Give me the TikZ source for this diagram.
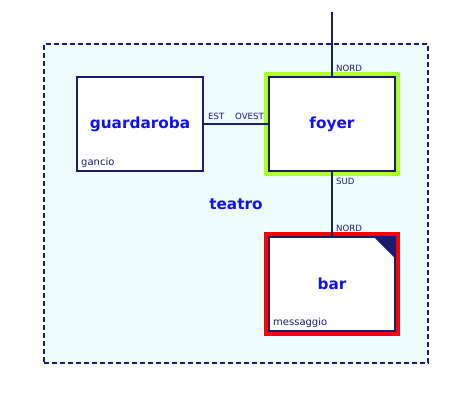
\documentclass[tikz,border=0pt]{standalone}
\usepackage{fontspec}
\setmainfont{DejaVu Sans}
\definecolor{navy}{HTML}{1C1C6E}
\definecolor{titleblue}{HTML}{1010F0}
\definecolor{bgcyan}{HTML}{EEFCFF}
\definecolor{lime}{HTML}{AEFF2A}
\begin{document}
\begin{tikzpicture}[x=1pt,y=-1pt,
  room/.style={draw=navy, line width=2pt, fill=white, minimum width=126pt, minimum height=94pt, inner sep=0pt},
  title/.style={text=titleblue, font=\fontsize{15.3}{17}\selectfont\bfseries},
  small/.style={text=navy, font=\fontsize{8.6}{9}\selectfont, inner sep=0pt},
  side/.style={text=navy, font=\fontsize{10}{12}\selectfont, inner sep=0pt},
  link/.style={draw=navy, line width=1.8pt}]
\useasboundingbox (0,0) rectangle (472,408);
\node[draw=navy, dash pattern=on 5pt off 3pt, line width=1.5pt, fill=bgcyan, minimum width=384pt, minimum height=319pt, inner sep=0pt] (teatro) at (236,203.5) {};
\node[title] (tl) at (236,204) {teatro};
% highlights
\draw[lime, line width=4pt] (266,74) rectangle (398,174);
\draw[red, line width=4pt] (266,234) rectangle (398,334);
\node[room] (g) at (140,124) {};
\node[room] (f) at (332,124) {};
\node[room] (b) at (332,284) {};
\node[title] at (g.center) {guardaroba};
\node[title] at (f.center) {foyer};
\node[title] at (b.center) {bar};
\fill[navy] ([xshift=-23pt]b.north east) -- (b.north east) -- ([yshift=-23pt]b.north east) -- cycle;
\node[side, anchor=base west] (gl) at (81,165) {gancio};
\node[side, anchor=base west] (bl) at (273,325) {messaggio};
\coordinate (top) at (332,12);
\draw[link] (top) -- (f.north);
\draw[link] (g.east) -- (f.west);
\draw[link] (f.south) -- (b.north);
\node[small, anchor=south west] (n1) at (336,72) {NORD};
\node[small, anchor=south west] (e1) at (208,120) {EST};
\node[small, anchor=south east] (o1) at (264,120) {OVEST};
\node[small, anchor=north west] (s1) at (336,178) {SUD};
\node[small, anchor=south west] (n2) at (336,232) {NORD};
\end{tikzpicture}
\end{document}
